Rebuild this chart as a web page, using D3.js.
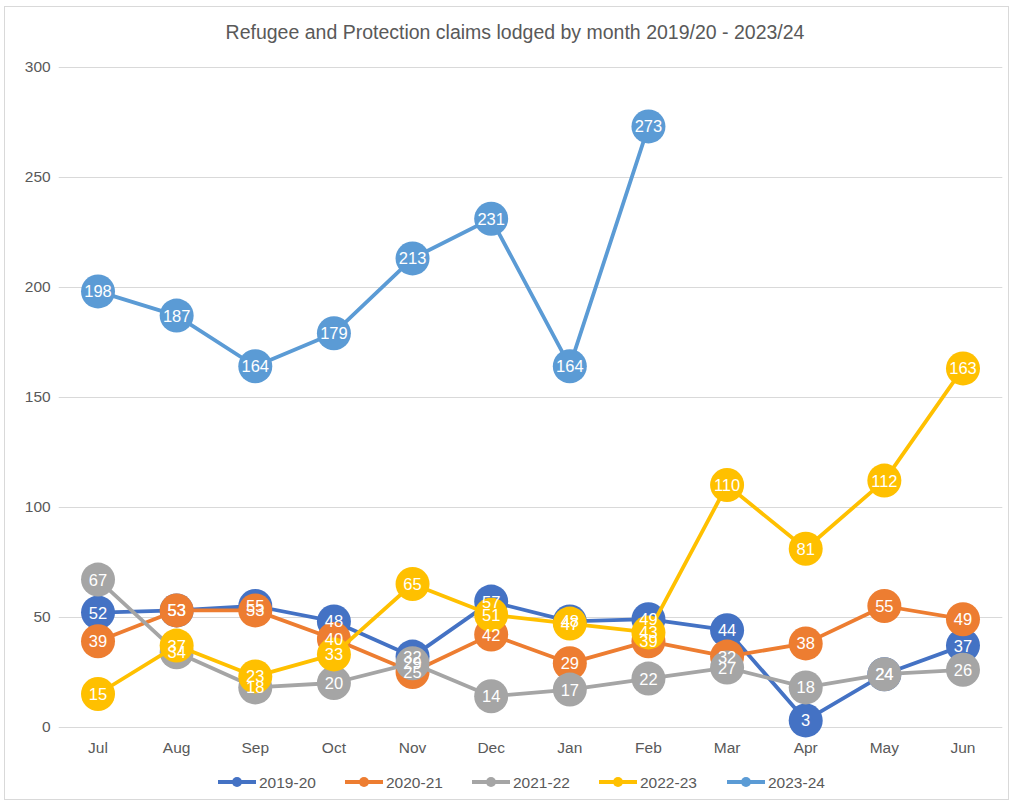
<!DOCTYPE html>
<html><head><meta charset="utf-8">
<script src="https://cdn.jsdelivr.net/npm/d3@7"></script>
<style>body{margin:0;background:#fff;font-family:"Liberation Sans",Arial,sans-serif;}</style>
</head><body><svg id="c" width="1012" height="805"></svg>
<script>
const months = ["Jul","Aug","Sep","Oct","Nov","Dec","Jan","Feb","Mar","Apr","May","Jun"];
const seriesNames = ["2019-20","2020-21","2021-22","2022-23","2023-24"];
const colors = ["#4472C4","#ED7D31","#A5A5A5","#FFC000","#5B9BD5"];
const v2019 = [52,53,55,48,32,57,48,49,44,3,24,37];
const v2020 = [39,53,53,40,25,42,29,39,32,38,55,49];
const v2021 = [67,34,18,20,29,14,17,22,27,18,24,26];
const v2022 = [15,37,23,33,65,51,47,43,110,81,112,163];
const v2023 = [198,187,164,179,213,231,164,273];
const yTicks = [0,50,100,150,200,250,300];
const title = "Refugee and Protection claims lodged by month 2019/20 - 2023/24";
const allValues = [v2019,v2020,v2021,v2022,v2023];

const svg = d3.select("#c");
svg.append("rect").attr("x",4.5).attr("y",6.5).attr("width",1004).attr("height",793)
  .attr("fill","#fff").attr("stroke","#d9d9d9");
const x = d3.scaleBand().domain(months).range([58.7,1002.3]);
const y = d3.scaleLinear().domain([0,300]).range([727,67]);
const cx = m => x(m)+x.bandwidth()/2;

svg.append("text").attr("x",515).attr("y",39).attr("text-anchor","middle")
  .attr("font-size",19.5).attr("fill","#595959").text(title);

const gy = svg.append("g").attr("transform","translate(58.7,0)")
  .call(d3.axisLeft(y).tickValues(yTicks).tickSize(-943.6).tickPadding(8));
gy.select(".domain").remove();
gy.selectAll("line").attr("stroke","#d9d9d9").attr("stroke-width",1.2);
gy.selectAll("text").attr("font-size",15.5).attr("fill","#595959").attr("font-family","Liberation Sans, Arial, sans-serif");

const gx = svg.append("g").attr("transform","translate(0,727)")
  .call(d3.axisBottom(x).tickSize(0).tickPadding(15));
gx.select(".domain").remove();
gx.selectAll("text").attr("font-size",15.5).attr("fill","#595959").attr("font-family","Liberation Sans, Arial, sans-serif");

const line = d3.line().x(d=>cx(d.m)).y(d=>y(d.v));
const data = allValues.map((vals,i)=>vals.map((v,j)=>({m:months[j],v,i})));
data.forEach((pts,i)=>{
  svg.append("path").datum(pts).attr("d",line).attr("fill","none")
    .attr("stroke",colors[i]).attr("stroke-width",3.8).attr("stroke-linejoin","round");
  svg.selectAll(null).data(pts).enter().append("circle")
    .attr("cx",d=>cx(d.m)).attr("cy",d=>y(d.v)).attr("r",17).attr("fill",colors[i]);
});
data.forEach((pts,i)=>{
  svg.selectAll(null).data(pts).enter().append("text")
    .attr("x",d=>cx(d.m)).attr("y",d=>y(d.v)+6).attr("text-anchor","middle")
    .attr("font-size",16.5).attr("fill","#fff").text(d=>d.v);
});

const legX = [218,345,472,599,727];
const lg = svg.append("g");
seriesNames.forEach((n,i)=>{
  const g = lg.append("g").attr("transform",`translate(${legX[i]},782)`);
  g.append("line").attr("x1",0).attr("x2",38).attr("stroke",colors[i]).attr("stroke-width",3.8);
  g.append("circle").attr("cx",19).attr("r",5).attr("fill",colors[i]);
  g.append("text").attr("x",41).attr("y",5.5).attr("font-size",15.5).attr("fill","#595959").text(n);
});
</script></body></html>
